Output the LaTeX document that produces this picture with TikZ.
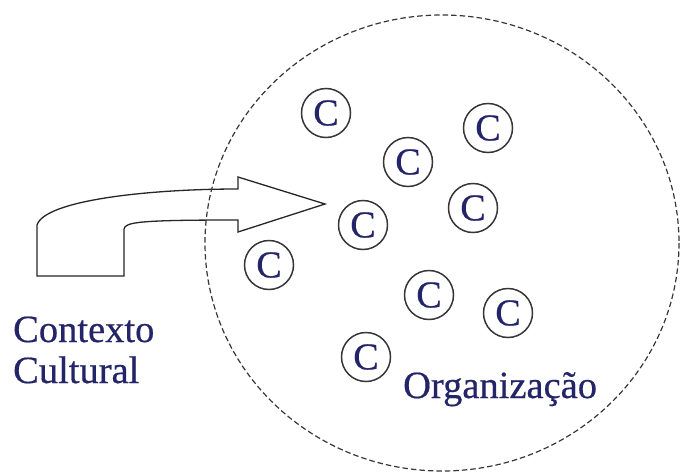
\documentclass[tikz,border=0pt]{standalone}
\usepackage{fontspec}
\setmainfont{Liberation Serif}[FakeBold=0.5]
\definecolor{inkblue}{RGB}{36,36,104}
\definecolor{lineink}{RGB}{55,55,55}
\begin{document}
\begin{tikzpicture}[x=1pt,y=-1pt,
  label/.style={font=\fontsize{38.5}{42}\selectfont, text=inkblue, inner sep=0pt, anchor=base west},
  member/.style={circle, draw=lineink, line width=1.5pt, minimum size=49pt, inner sep=0pt,
                 font=\fontsize{38}{40}\selectfont, text=inkblue},
  boundary/.style={draw=lineink, line width=1.2pt, dash pattern=on 5.5pt off 3pt},
  bentarrow/.style={draw=black!85, line width=1.3pt, line join=miter}]
\useasboundingbox (0,0) rectangle (680,474);
\fill[white] (0,0) rectangle (680,474);

% bent block arrow entering the organisation
\draw[bentarrow] (37,276) -- (124,276) -- (124,229)
  .. controls (125,222) and (140,220) .. (238,220)
  -- (238,232) -- (325,204) -- (238,177) -- (238,189)
  .. controls (150,189) and (45,200) .. (37,225) -- cycle;

% organisation boundary
\draw[boundary] (442,243) ellipse [x radius=237, y radius=228];

% members
\node[member] (c1) at (326,113) {C};
\node[member] (c2) at (488,128) {C};
\node[member] (c3) at (408,162) {C};
\node[member] (c4) at (473,208) {C};
\node[member] (c5) at (363,225) {C};
\node[member] (c6) at (269,265) {C};
\node[member] (c7) at (429,295) {C};
\node[member] (c8) at (508,313) {C};
\node[member] (c9) at (366,357) {C};

% labels
\node[label] (ctx1) at (13,342) {Contexto};
\node[label] (ctx2) at (13,383) {Cultural};
\node[label] (org) at (403,398) {Organização};
\end{tikzpicture}
\end{document}
